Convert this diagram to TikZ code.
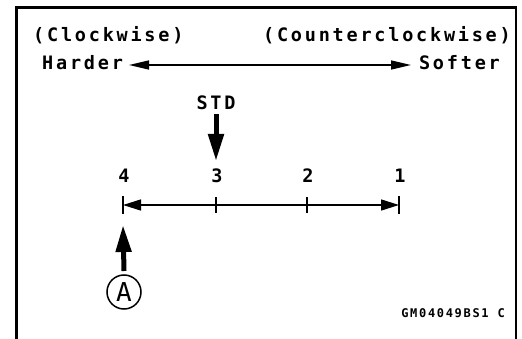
\documentclass[tikz,border=0pt]{standalone}
\usepackage{fontspec}
\usetikzlibrary{arrows.meta}
\newfontfamily\lblfont[LetterSpace=15]{DejaVu Sans Mono Bold}
\newfontfamily\codefont[LetterSpace=14]{DejaVu Sans Mono Bold}
\newfontfamily\circfont{DejaVu Sans Mono}
\begin{document}
\begin{tikzpicture}[x=1pt,y=-1pt,
  lbl/.style={inner sep=0pt,font=\lblfont\fontsize{18.5}{20}\selectfont},
  num/.style={inner sep=0pt,anchor=base,font=\lblfont\fontsize{18.5}{20}\selectfont},
  frameline/.style={line width=2.5pt},
  thinarrow/.style={line width=1.5pt,{Triangle[length=20pt,width=9pt]}-{Triangle[length=20pt,width=9pt]}},
  dimarrow/.style={line width=1.5pt,{Triangle[length=18pt,width=11pt]}-{Triangle[length=18pt,width=11pt]}},
  tick/.style={line width=1.5pt},
  bigarrow/.style={line width=5pt,-{Triangle[length=27pt,width=15pt]}},
  circ/.style={circle,draw,line width=1.5pt,minimum size=34pt,inner sep=0pt,font=\circfont\fontsize{26}{27}\selectfont}]
\useasboundingbox (0,0) rectangle (522,339);
% frame
\draw[frameline] (16.5,339) -- (16.5,7.5) -- (516,7.5) -- (516,339);
% top labels
\node[lbl,anchor=base west] (cw) at (33,42) {(Clockwise)};
\node[lbl,anchor=base east] (ccw) at (511,42) {(Counterclockwise)};
\node[lbl,anchor=base west] (hard) at (42,70) {Harder};
\node[lbl,anchor=base east] (soft) at (500,70) {Softer};
\coordinate (hl) at (129,65);
\coordinate (sl) at (411,65);
\draw[thinarrow] (hl) -- (sl);
% STD
\node[lbl,anchor=base] (std) at (216,110) {STD};
\coordinate (stdtop) at (216,114);
\coordinate (stdtip) at (216,161);
\draw[bigarrow] (stdtop) -- (stdtip);
% numbers
\node[num] (n4) at (124,183) {4};
\node[num] (n3) at (217,183) {3};
\node[num] (n2) at (308,183) {2};
\node[num] (n1) at (400,183) {1};
% dimension line
\coordinate (d4) at (123,205);
\coordinate (d3) at (216,205);
\coordinate (d2) at (307,205);
\coordinate (d1) at (399,205);
\draw[dimarrow] (d4) -- (d1);
\foreach \p in {d4,d1} \draw[tick] ([yshift=-9pt]\p) -- ([yshift=9pt]\p);
\foreach \p in {d3,d2} \draw[tick] ([yshift=-8pt]\p) -- ([yshift=8pt]\p);
% A
\node[circ] (A) at (124,292) {A};
\coordinate (atip) at (123,225);
\draw[bigarrow] (A.north |- 0,271) -- (atip);
% code
\node[inner sep=0pt,anchor=base east,font=\codefont\fontsize{12}{13}\selectfont] (code) at (505,317) {GM04049BS1 C};
\end{tikzpicture}
\end{document}
